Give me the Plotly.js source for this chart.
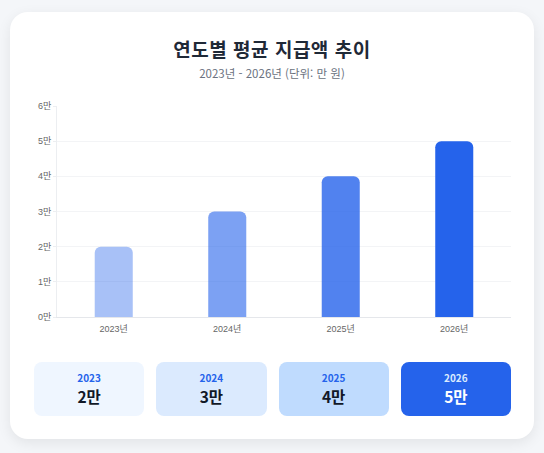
<!DOCTYPE html>
<html lang="ko">
<head>
<meta charset="utf-8">
<script src="https://cdn.plot.ly/plotly-3.0.1.min.js"></script>
<style>
  html, body { margin: 0; padding: 0; }
  body {
    width: 544px; height: 453px; overflow: hidden;
    background: #f4f6f9;
    font-family: "Noto Sans CJK KR", "Noto Sans", sans-serif;
    position: relative;
  }
  .card {
    position: absolute; left: 10px; top: 12px; width: 524px; height: 427px;
    background: #fff; border-radius: 18px;
    box-shadow: 0 4px 14px rgba(0,0,0,0.08);
  }
  .title {
    position: absolute; left: 0; right: 0; top: 23px; text-align: center;
    font-size: 19px; font-weight: 700; color: #1f2937; letter-spacing: 0.5px;
  }
  .subtitle {
    position: absolute; left: 0; right: 0; top: 53px; text-align: center;
    font-size: 11.5px; color: #6b7280;
  }
  #chart { position: absolute; left: 24px; top: 74px; width: 477px; height: 250px; }
  .stats { position: absolute; left: 24px; top: 350px; width: 477px; display: flex; gap: 12px; }
  .stat {
    flex: 1; height: 54px; border-radius: 8px; text-align: center;
    display: flex; flex-direction: column; justify-content: center;
  }
  .stat .yr { font-size: 10px; font-weight: 700; color: #2563eb; line-height: 14px; }
  .stat .val { font-size: 15.5px; font-weight: 700; color: #111827; line-height: 22px; }
  .stat.hl .yr { color: #dbeafe; }
  .stat.hl .val { color: #fff; }
</style>
</head>
<body>
<div class="card">
  <div class="title">연도별 평균 지급액 추이</div>
  <div class="subtitle">2023년 - 2026년 (단위: 만 원)</div>
  <div id="chart"></div>
  <div class="stats" id="stats"></div>
</div>
<script>
const years = ['2023', '2024', '2025', '2026'];
const yearLabels = ['2023년', '2024년', '2025년', '2026년'];
const amounts = [2, 3, 4, 5];           // 만 원
const barColors = ['rgba(37,99,235,0.4)', 'rgba(37,99,235,0.6)', 'rgba(37,99,235,0.8)', 'rgba(37,99,235,1)'];
const statBg = ['#eff6ff', '#dbeafe', '#bfdbfe', '#2563eb'];

const trace = {
  type: 'bar',
  x: yearLabels,
  y: amounts,
  width: 0.335,
  marker: {
    color: barColors,
    cornerradius: 6,
    line: { width: 0 }
  },
  hoverinfo: 'y'
};

const layout = {
  paper_bgcolor: 'rgba(0,0,0,0)',
  plot_bgcolor: 'rgba(0,0,0,0)',
  margin: { t: 20, b: 19, l: 23, r: 0 },
  showlegend: false,
  font: { family: '"Liberation Sans", "Noto Sans CJK KR", sans-serif', size: 9, color: '#666' },
  xaxis: {
    showgrid: false,
    showline: true, linecolor: '#e5e7eb', linewidth: 1,
    ticks: '', ticklabelstandoff: 3,
    tickfont: { size: 9, color: '#666' },
    fixedrange: true
  },
  yaxis: {
    range: [0, 6], dtick: 1, ticksuffix: '만',
    showgrid: true, gridcolor: '#f3f4f6', gridwidth: 1,
    zeroline: false,
    showline: true, linecolor: '#eceef1', linewidth: 1,
    ticks: 'outside', ticklen: 3, tickcolor: '#eceef1',
    tickfont: { size: 9, color: '#666' },
    fixedrange: true
  }
};

Plotly.newPlot('chart', [trace], layout, { displayModeBar: false, staticPlot: true });

// summary boxes
const stats = document.getElementById('stats');
years.forEach((yr, i) => {
  const box = document.createElement('div');
  box.className = 'stat' + (i === years.length - 1 ? ' hl' : '');
  box.style.background = statBg[i];
  box.innerHTML = '<div class="yr">' + yr + '</div><div class="val">' + amounts[i] + '만</div>';
  stats.appendChild(box);
});
</script>
</body>
</html>
